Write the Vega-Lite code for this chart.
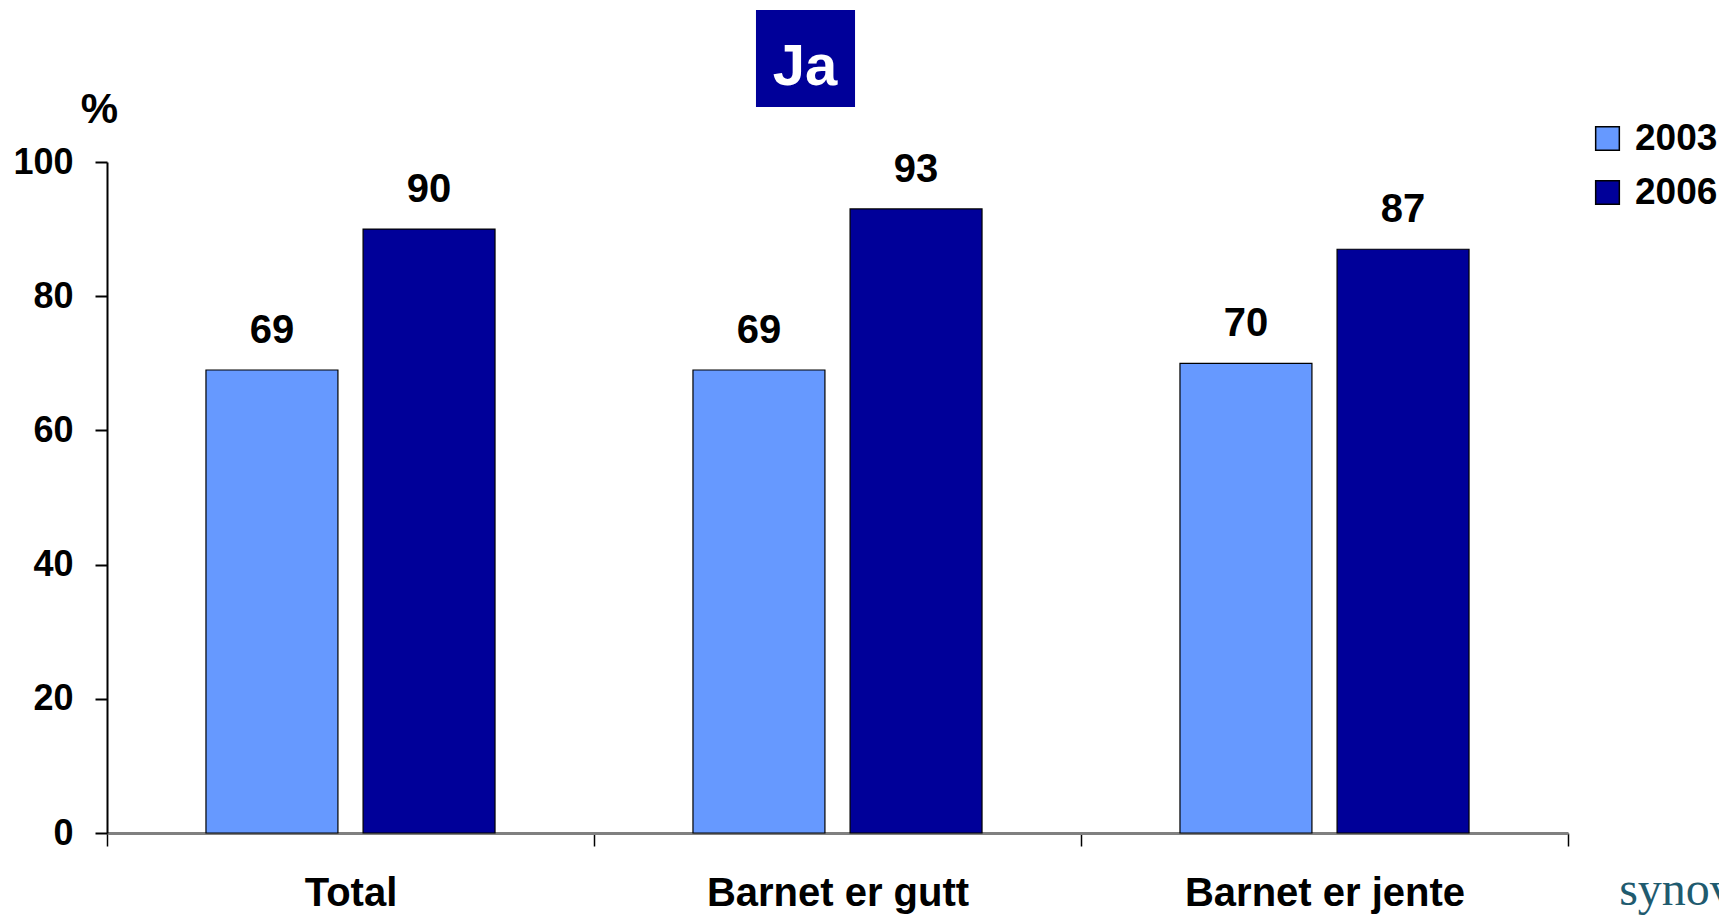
{
  "$schema": "https://vega.github.io/schema/vega-lite/v6.json",
  "width": 1461,
  "height": 671,
  "autosize": {"type": "none"},
  "padding": {"left": 107, "top": 162, "right": 151, "bottom": 82},
  "config": {"font": "Liberation Sans", "view": {"stroke": null}},
  "layer": [
    {
      "data": {"values": [
        {"group": "Total", "year": "2003", "value": 69},
        {"group": "Total", "year": "2006", "value": 90},
        {"group": "Barnet er gutt", "year": "2003", "value": 69},
        {"group": "Barnet er gutt", "year": "2006", "value": 93},
        {"group": "Barnet er jente", "year": "2003", "value": 70},
        {"group": "Barnet er jente", "year": "2006", "value": 87}
      ]},
      "encoding": {
        "x": {"field": "group", "type": "nominal", "sort": ["Total", "Barnet er gutt", "Barnet er jente"],
          "scale": {"paddingInner": 0, "paddingOuter": 0},
          "axis": {"title": null, "labelAngle": 0, "labelFontSize": 40, "labelFontWeight": "bold", "labelColor": "black",
            "labelLimit": 0, "labelPadding": 27, "tickBand": "extent", "tickSize": 13, "tickColor": "black", "tickWidth": 1.5,
            "domainColor": "#808080", "domainWidth": 3}},
        "xOffset": {"field": "year", "type": "nominal", "scale": {"paddingInner": 0.16, "paddingOuter": 0.63}},
        "y": {"field": "value", "type": "quantitative", "scale": {"domain": [0, 100], "nice": false},
          "axis": {"values": [0, 20, 40, 60, 80, 100], "grid": false, "title": "%", "titleAngle": 0,
            "titleX": -8, "titleY": -40, "titleAlign": "center", "titleBaseline": "alphabetic",
            "titleFontSize": 42, "titleFontWeight": "bold", "titleColor": "black",
            "labelFontSize": 36, "labelFontWeight": "bold", "labelColor": "black", "labelPadding": 22,
            "tickSize": 12, "tickColor": "black", "tickWidth": 2, "domainColor": "black", "domainWidth": 2}}
      },
      "layer": [
        {
          "mark": {"type": "bar", "stroke": "black", "strokeWidth": 1.2},
          "encoding": {
            "color": {"field": "year", "type": "nominal",
              "scale": {"domain": ["2003", "2006"], "range": ["#6699FF", "#000099"]},
              "legend": {"title": null, "orient": "none", "legendX": 1482, "legendY": -42,
                "labelFontSize": 37, "labelFontWeight": "bold", "labelColor": "black",
                "symbolType": "square", "symbolSize": 560, "symbolStrokeColor": "black", "symbolStrokeWidth": 1.5,
                "labelOffset": 9, "rowPadding": 16, "padding": 0}}
          }
        },
        {
          "mark": {"type": "text", "dy": -27, "baseline": "alphabetic", "fontSize": 40, "fontWeight": "bold", "color": "black"},
          "encoding": {"text": {"field": "value", "type": "quantitative"}}
        }
      ]
    },
    {
      "data": {"values": [{"label": "Ja"}]},
      "layer": [
        {
          "mark": {"type": "rect", "color": "#000099"},
          "encoding": {
            "x": {"datum": 44.42, "type": "quantitative", "scale": {"domain": [0, 100], "nice": false}, "axis": null},
            "x2": {"datum": 51.2},
            "y": {"datum": 108.2, "type": "quantitative", "scale": {"domain": [0, 100], "nice": false}, "axis": null},
            "y2": {"datum": 122.65}
          }
        },
        {
          "mark": {"type": "text", "color": "white", "fontSize": 58, "fontWeight": "bold", "align": "center", "baseline": "alphabetic"},
          "encoding": {
            "x": {"datum": 47.78, "type": "quantitative", "scale": {"domain": [0, 100], "nice": false}, "axis": null},
            "y": {"datum": 111.5, "type": "quantitative", "scale": {"domain": [0, 100], "nice": false}, "axis": null},
            "text": {"field": "label"}
          }
        }
      ],
      "resolve": {"scale": {"x": "independent", "y": "independent"}, "axis": {"x": "independent", "y": "independent"}}
    },
    {
      "data": {"values": [{"label": "synovate"}]},
      "mark": {"type": "text", "color": "#1f5b6f", "font": "Liberation Serif", "fontSize": 48, "align": "left", "baseline": "alphabetic"},
      "encoding": {
        "x": {"datum": 103.5, "type": "quantitative", "scale": {"domain": [0, 100], "nice": false}, "axis": null},
        "y": {"datum": -10.7, "type": "quantitative", "scale": {"domain": [0, 100], "nice": false}, "axis": null},
        "text": {"field": "label"}
      }
    }
  ],
  "resolve": {"scale": {"x": "independent", "y": "independent", "xOffset": "independent"}, "axis": {"x": "independent", "y": "independent"}}
}
